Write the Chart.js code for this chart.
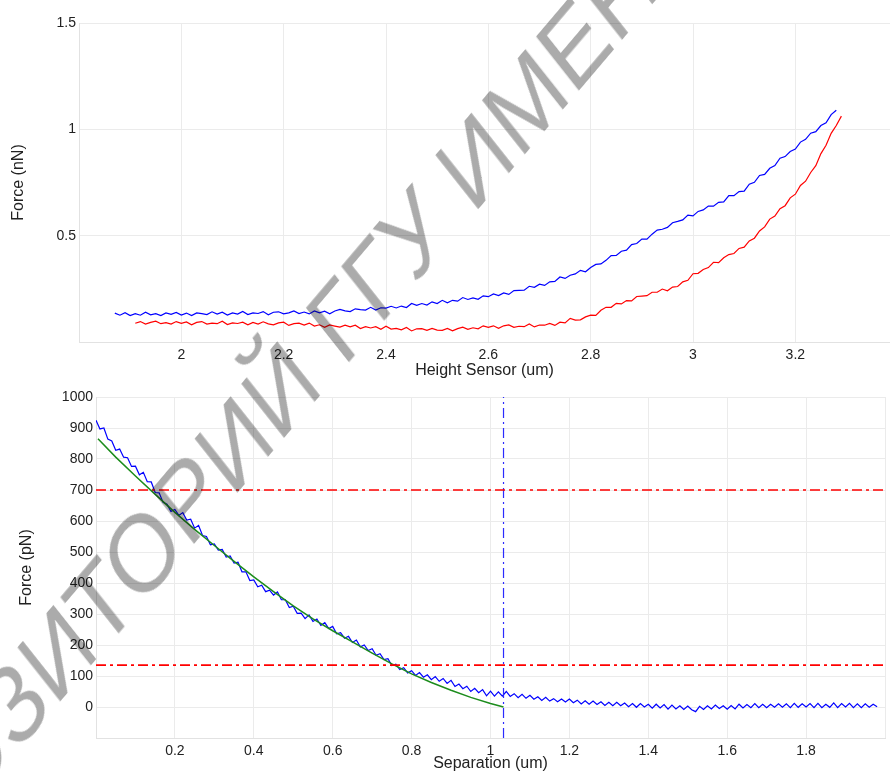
<!DOCTYPE html>
<html>
<head>
<meta charset="utf-8">
<title>Force curves</title>
<script src="https://cdn.jsdelivr.net/npm/chart.js@4.4.1/dist/chart.umd.min.js"></script>
<style>
  html, body { margin: 0; padding: 0; background: #fff; }
  #page { position: relative; width: 890px; height: 776px; overflow: hidden; }
  #topBox { position: absolute; left: 0; top: 0; }
  #bottomBox { position: absolute; left: 0; top: 385px; }
  #stamp {
    position: absolute; left: -221px; top: 903px;
    font: 110px 'Liberation Sans', Arial, sans-serif; line-height: 1;
    white-space: nowrap; color: rgba(0, 0, 0, 0.33);
    transform: scaleX(0.82) rotate(-44deg); transform-origin: 0 0; pointer-events: none;
  }
</style>
</head>
<body>
<div id="page">
  <canvas id="topBox" width="890" height="385"></canvas>
  <canvas id="bottomBox" width="890" height="391"></canvas>
  <div id="stamp">РЕПОЗИТОРИЙ ГГУ ИМЕНИ Ф. СКОРИНЫ</div>
</div>
<script>
// top chart: height sensor (um) vs force (nN)
const heightX = [
  1.87,1.88,1.89,1.90,1.91,1.92,1.93,1.94,1.95,1.96,
  1.97,1.98,1.99,2.00,2.01,2.02,2.03,2.04,2.05,2.06,
  2.07,2.08,2.09,2.10,2.11,2.12,2.13,2.14,2.15,2.16,
  2.17,2.18,2.19,2.20,2.21,2.22,2.23,2.24,2.25,2.26,
  2.27,2.28,2.29,2.30,2.31,2.32,2.33,2.34,2.35,2.36,
  2.37,2.38,2.39,2.40,2.41,2.42,2.43,2.44,2.45,2.46,
  2.47,2.48,2.49,2.50,2.51,2.52,2.53,2.54,2.55,2.56,
  2.57,2.58,2.59,2.60,2.61,2.62,2.63,2.64,2.65,2.66,
  2.67,2.68,2.69,2.70,2.71,2.72,2.73,2.74,2.75,2.76,
  2.77,2.78,2.79,2.80,2.81,2.82,2.83,2.84,2.85,2.86,
  2.87,2.88,2.89,2.90,2.91,2.92,2.93,2.94,2.95,2.96,
  2.97,2.98,2.99,3.00,3.01,3.02,3.03,3.04,3.05,3.06,
  3.07,3.08,3.09,3.10,3.11,3.12,3.13,3.14,3.15,3.16,
  3.17,3.18,3.19,3.20,3.21,3.22,3.23,3.24,3.25,3.26,
  3.27,3.28,3.29
]
const forceApproach = [
  .136,.126,.138,.124,.133,.126,.140,.128,.133,.124,
  .137,.130,.139,.127,.136,.124,.137,.133,.129,.142,
  .131,.140,.127,.137,.131,.144,.129,.137,.134,.143,
  .128,.140,.142,.132,.137,.146,.134,.141,.132,.146,
  .137,.145,.133,.146,.153,.146,.143,.156,.152,.150,
  .163,.150,.161,.159,.168,.160,.169,.162,.181,.172,
  .181,.174,.189,.181,.196,.184,.196,.192,.209,.200,
  .207,.201,.217,.213,.226,.218,.231,.224,.242,.243,
  .244,.262,.257,.272,.266,.283,.285,.306,.299,.314,
  .320,.337,.330,.350,.365,.367,.384,.406,.407,.427,
  .432,.458,.463,.484,.484,.507,.526,.530,.539,.561,
  .567,.574,.597,.593,.614,.621,.639,.639,.657,.659,
  .688,.688,.707,.709,.742,.751,.783,.788,.817,.830,
  .864,.872,.896,.907,.940,.953,.982,.989,1.018,1.031,
  1.069,1.090,null
]
const forceRetract = [
  null,null,null,null,.088,.096,.084,.092,.098,.086,
  .091,.084,.096,.088,.094,.081,.092,.096,.084,.089,
  .086,.098,.082,.090,.087,.093,.081,.092,.084,.095,
  .085,.081,.090,.093,.078,.086,.089,.080,.089,.075,
  .081,.069,.080,.075,.070,.079,.071,.079,.063,.072,
  .066,.072,.060,.074,.061,.064,.057,.068,.052,.062,
  .063,.055,.064,.056,.055,.064,.053,.063,.070,.060,
  .067,.062,.076,.069,.076,.064,.076,.080,.069,.074,
  .072,.085,.071,.080,.079,.087,.078,.093,.090,.111,
  .103,.104,.118,.126,.125,.149,.163,.163,.182,.179,
  .195,.193,.214,.216,.218,.234,.234,.249,.241,.258,
  .261,.283,.290,.321,.323,.341,.350,.375,.373,.396,
  .411,.416,.440,.446,.475,.488,.522,.541,.578,.592,
  .627,.641,.678,.695,.736,.756,.797,.829,.886,.925,
  .981,1.018,1.062
]

// bottom chart: separation (um) vs force (pN)
const sepX = [
  0.00,0.01,0.02,0.03,0.04,0.05,0.06,0.07,0.08,0.09,
  0.10,0.11,0.12,0.13,0.14,0.15,0.16,0.17,0.18,0.19,
  0.20,0.21,0.22,0.23,0.24,0.25,0.26,0.27,0.28,0.29,
  0.30,0.31,0.32,0.33,0.34,0.35,0.36,0.37,0.38,0.39,
  0.40,0.41,0.42,0.43,0.44,0.45,0.46,0.47,0.48,0.49,
  0.50,0.51,0.52,0.53,0.54,0.55,0.56,0.57,0.58,0.59,
  0.60,0.61,0.62,0.63,0.64,0.65,0.66,0.67,0.68,0.69,
  0.70,0.71,0.72,0.73,0.74,0.75,0.76,0.77,0.78,0.79,
  0.80,0.81,0.82,0.83,0.84,0.85,0.86,0.87,0.88,0.89,
  0.90,0.91,0.92,0.93,0.94,0.95,0.96,0.97,0.98,0.99,
  1.00,1.01,1.02,1.03,1.04,1.05,1.06,1.07,1.08,1.09,
  1.10,1.11,1.12,1.13,1.14,1.15,1.16,1.17,1.18,1.19,
  1.20,1.21,1.22,1.23,1.24,1.25,1.26,1.27,1.28,1.29,
  1.30,1.31,1.32,1.33,1.34,1.35,1.36,1.37,1.38,1.39,
  1.40,1.41,1.42,1.43,1.44,1.45,1.46,1.47,1.48,1.49,
  1.50,1.51,1.52,1.53,1.54,1.55,1.56,1.57,1.58,1.59,
  1.60,1.61,1.62,1.63,1.64,1.65,1.66,1.67,1.68,1.69,
  1.70,1.71,1.72,1.73,1.74,1.75,1.76,1.77,1.78,1.79,
  1.80,1.81,1.82,1.83,1.84,1.85,1.86,1.87,1.88,1.89,
  1.90,1.91,1.92,1.93,1.94,1.95,1.96,1.97,1.98
]
const sepForce = [
  925,897,900,864,858,828,832,806,804,776,
  777,749,757,727,726,692,691,660,654,631,
  637,618,627,603,606,577,586,553,550,523,
  526,506,508,484,487,464,467,436,436,408,
  410,388,393,372,377,361,371,346,346,321,
  325,302,303,285,297,276,284,263,272,253,
  260,236,240,222,228,208,216,194,200,182,
  188,167,172,153,156,134,138,121,127,110,
  117,102,111,96,104,88,98,83,92,76,
  86,66,74,59,67,50,60,46,56,36,
  51,35,49,35,50,34,43,30,41,28,
  38,25,33,21,31,19,27,17,26,16,
  26,14,22,10,20,9,19,8,17,5,
  15,4,15,4,13,1,11,-1,11,0,
  9,-4,9,-3,8,-7,6,-6,4,-8,
  3,-9,-15,2,-8,4,-6,6,-5,4,
  -7,5,-6,9,-3,8,-2,11,-2,9,
  -2,9,-1,10,-1,10,-2,12,-1,10,
  0,11,-2,12,-2,9,-1,13,-2,11,
  0,12,-2,10,-2,10,-1,9,1
]
// fitted curve (green)
const fitX = [0.005,0.05,0.1,0.15,0.2,0.25,0.3,0.35,0.4,0.45,0.5,0.55,0.6,0.65,0.7,0.75,0.8,0.85,0.9,0.95,1.0,1.033]
const fitForce = [865,806,745,686,628,573,521,470,420,372,326,284,246,210,174,139,107,79,54,31,11,0]
// dash-dot markers
const limitLevels = [700, 135]
const contactPoint = 1.033

const FONT = "'Liberation Sans', Arial, sans-serif"
const TXT = '#222'
const GRID = '#ebebeb'

function pts(xs, ys){
  return xs.map((x, i) => ({x: x, y: ys[i]}))
}

// hides the label sitting on the axis ends
function edgeLabel(lo, hi){
  return function(v){
    if (Math.abs(v - lo) < 1e-6 || Math.abs(v - hi) < 1e-6) return ''
    return String(+v.toFixed(2))
  }
}

function axisX(min, max, title, h, titlePad){
  return {
    type: 'linear', min: min, max: max,
    afterFit: s => { s.height = h },
    grid: {color: GRID, drawTicks: false},
    border: {color: '#e2e2e2'},
    ticks: {stepSize: 0.2, includeBounds: false, padding: 5, maxRotation: 0, autoSkip: false,
      font: {family: FONT, size: 14}, color: TXT, callback: edgeLabel(min, max)},
    title: {display: true, text: title, font: {family: FONT, size: 16}, color: TXT, padding: {top: 0, bottom: titlePad}}
  }
}

function axisY(min, max, step, title, w, titlePad){
  return {
    type: 'linear', min: min, max: max,
    afterFit: s => { s.width = w },
    grid: {color: GRID, drawTicks: false},
    border: {color: '#e2e2e2'},
    ticks: {stepSize: step, padding: 3, font: {family: FONT, size: 14}, color: TXT, callback: edgeLabel(min, 1e9)},
    title: {display: true, text: title, font: {family: FONT, size: 16}, color: TXT, padding: {top: titlePad, bottom: 0}}
  }
}

const common = {
  responsive: false,
  devicePixelRatio: 1,
  animation: false,
  plugins: {legend: {display: false}, tooltip: {enabled: false}},
  elements: {point: {radius: 0}, line: {tension: 0}}
}

new Chart(document.getElementById('topBox'), {
  type: 'line',
  data: {
    datasets: [
      {data: pts(heightX, forceApproach), borderColor: '#0000ff', borderWidth: 1.2},
      {data: pts(heightX, forceRetract), borderColor: '#ff0000', borderWidth: 1.2}
    ]
  },
  options: Object.assign({}, common, {
    layout: {padding: {top: 23, right: 0, bottom: 0, left: 0}},
    scales: {
      x: axisX(1.8, 3.385, 'Height Sensor (um)', 43, 5),
      y: axisY(0, 1.5, 0.5, 'Force (nN)', 79, 9)
    }
  })
})

const dashDot = [10, 4, 3, 4]
const bottomSets = []
limitLevels.forEach(lv => {
  bottomSets.push({data: [{x: 0, y: lv}, {x: 2, y: lv}], borderColor: '#ff0000', borderWidth: 1.6, borderDash: dashDot})
})
bottomSets.push({data: [{x: contactPoint, y: -100}, {x: contactPoint, y: 1000}], borderColor: '#2b2bff', borderWidth: 1.2, borderDash: [10, 4, 2, 4]})
bottomSets.push({data: pts(fitX, fitForce), borderColor: '#1c8c1c', borderWidth: 1.5})
bottomSets.push({data: pts(sepX, sepForce), borderColor: '#0000ff', borderWidth: 1.2})

new Chart(document.getElementById('bottomBox'), {
  type: 'line',
  data: {datasets: bottomSets},
  options: Object.assign({}, common, {
    layout: {padding: {top: 12, right: 1, bottom: 0, left: 0}},
    scales: {
      x: axisX(0, 2, 'Separation (um)', 38, 3),
      y: axisY(-100, 1000, 100, 'Force (pN)', 96, 17)
    }
  })
})
</script>
</body>
</html>
